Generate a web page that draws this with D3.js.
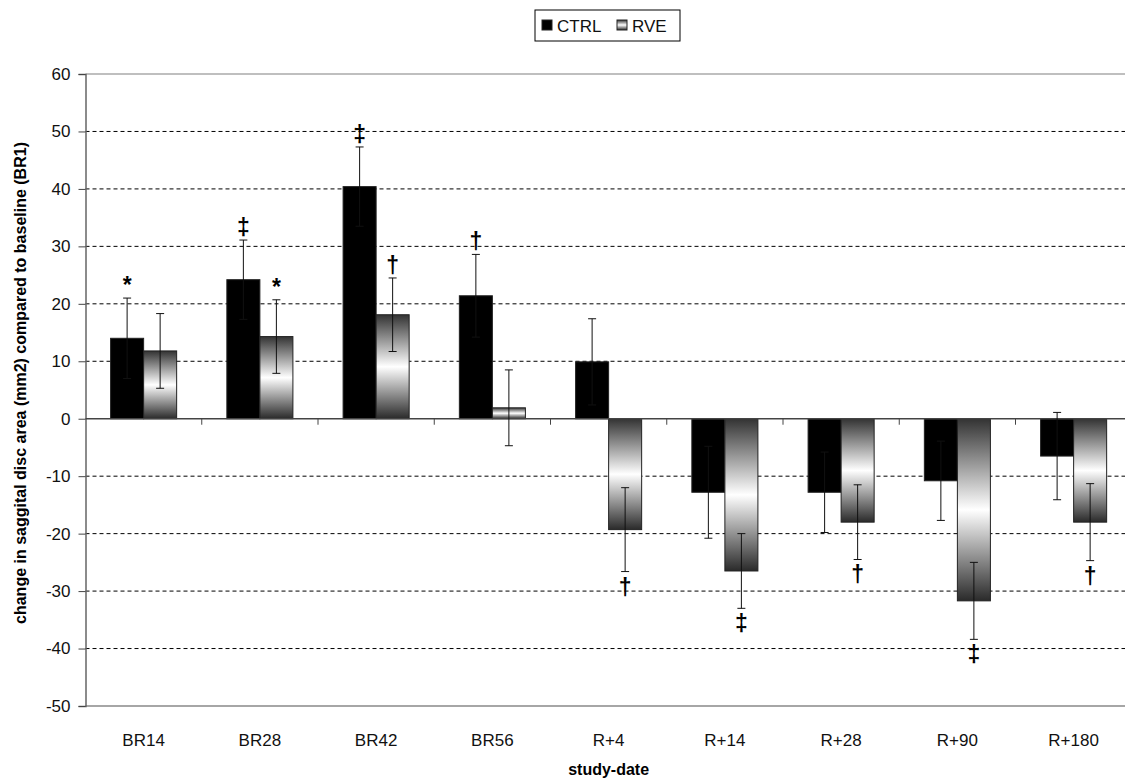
<!DOCTYPE html>
<html>
<head>
<meta charset="utf-8">
<script src="https://cdn.jsdelivr.net/npm/d3@7"></script>
<style>
  body { margin: 0; background: #fff; }
  text { font-family: "Liberation Sans", Arial, sans-serif; }
</style>
</head>
<body>
<div class="chart"></div>
<script>
// values
var categories = ["BR14", "BR28", "BR42", "BR56", "R+4", "R+14", "R+28", "R+90", "R+180"];
var seriesNames = ["CTRL", "RVE"];
var ctrl    = [14.0, 24.2, 40.4, 21.4, 9.9, -12.8, -12.8, -10.8, -6.5];
var ctrlErr = [7.0, 6.9, 6.9, 7.2, 7.5, 8.0, 7.0, 6.9, 7.6];
var rve     = [11.8, 14.3, 18.1, 1.9, -19.3, -26.5, -18.0, -31.7, -18.0];
var rveErr  = [6.5, 6.4, 6.4, 6.6, 7.3, 6.5, 6.5, 6.7, 6.7];
var ctrlMarks = ["*", "\u2021", "\u2021", "\u2020", "", "", "", "", ""];
var rveMarks  = ["", "*", "\u2020", "", "\u2020", "\u2021", "\u2020", "\u2021", "\u2020"];
var yTicks = [-50, -40, -30, -20, -10, 0, 10, 20, 30, 40, 50, 60];

var width = 1125, height = 779;
var plot = {left: 85.5, right: 1131.75, top: 74, bottom: 706};

var svg = d3.select(".chart")
	.append("svg")
	.attr("width", width)
	.attr("height", height);

var defs = svg.append("defs");
var grad = defs.append("linearGradient")
	.attr("id", "rveGrad")
	.attr("x1", 0).attr("y1", 0).attr("x2", 0).attr("y2", 1);
grad.append("stop").attr("offset", "0%").attr("stop-color", "#333");
grad.append("stop").attr("offset", "50%").attr("stop-color", "#fff");
grad.append("stop").attr("offset", "100%").attr("stop-color", "#2a2a2a");

var x0 = d3.scaleBand()
	.domain(categories)
	.range([plot.left, plot.right])
	.padding(0);

var x1 = d3.scaleBand()
	.domain(seriesNames)
	.range([0, x0.bandwidth()])
	.paddingInner(0)
	.paddingOuter(0.76);

var y = d3.scaleLinear()
	.domain([-50, 60])
	.range([plot.bottom, plot.top]);

// frame + grid
var g = svg.append("g");

g.selectAll("line.grid")
	.data(yTicks.filter(function(d){ return d !== 0 && d !== 60 && d !== -50; }))
	.enter()
	.append("line")
		.attr("class", "grid")
		.attr("x1", plot.left).attr("x2", plot.right)
		.attr("y1", function(d){ return y(d); })
		.attr("y2", function(d){ return y(d); })
		.attr("stroke", "#000")
		.attr("stroke-width", 1)
		.attr("stroke-dasharray", "4,3");

g.append("line")
	.attr("x1", plot.left).attr("x2", plot.right)
	.attr("y1", y(60)).attr("y2", y(60))
	.attr("stroke", "#aaa").attr("stroke-width", 1.5);
g.append("line")
	.attr("x1", plot.left).attr("x2", plot.right)
	.attr("y1", y(-50)).attr("y2", y(-50))
	.attr("stroke", "#888").attr("stroke-width", 1.5);

// y axis
var yAxis = d3.axisLeft(y)
	.tickValues(yTicks)
	.tickSize(7)
	.tickPadding(8)
	.tickFormat(function(d){ return String(d); });

var yg = svg.append("g")
	.attr("transform", "translate(" + plot.left + ",0)")
	.call(yAxis);
yg.select(".domain").attr("stroke", "#666").attr("stroke-width", 1.5);
yg.selectAll(".tick line").attr("stroke", "#444");
yg.selectAll(".tick text")
	.attr("font-size", 17)
	.attr("fill", "#111")
	.style("font-family", "'Liberation Sans', Arial, sans-serif");

// bars
var rows = categories.map(function(c, i){
	return [
		{cat: c, name: "CTRL", v: ctrl[i], e: ctrlErr[i], mark: ctrlMarks[i]},
		{cat: c, name: "RVE", v: rve[i], e: rveErr[i], mark: rveMarks[i]}
	];
});
var flat = [].concat.apply([], rows);

var bars = svg.append("g");
bars.selectAll("rect")
	.data(flat)
	.enter()
	.append("rect")
		.attr("x", function(d){ return x0(d.cat) + x1(d.name); })
		.attr("y", function(d){ return y(Math.max(0, d.v)); })
		.attr("width", x1.bandwidth())
		.attr("height", function(d){ return Math.abs(y(d.v) - y(0)); })
		.attr("fill", function(d){ return d.name === "CTRL" ? "#000" : "url(#rveGrad)"; })
		.attr("stroke", "#222")
		.attr("stroke-width", 1);

// zero line with category ticks
svg.append("line")
	.attr("x1", plot.left).attr("x2", plot.right)
	.attr("y1", y(0)).attr("y2", y(0))
	.attr("stroke", "#444").attr("stroke-width", 1.5);
svg.selectAll("line.ctick")
	.data(categories.slice(1))
	.enter()
	.append("line")
		.attr("class", "ctick")
		.attr("x1", function(d){ return x0(d); })
		.attr("x2", function(d){ return x0(d); })
		.attr("y1", y(0)).attr("y2", y(0) + 6)
		.attr("stroke", "#444");

// error bars
var eb = svg.append("g").selectAll("g")
	.data(flat)
	.enter()
	.append("g");
eb.append("line")
	.attr("x1", function(d){ return x0(d.cat) + x1(d.name) + x1.bandwidth()/2; })
	.attr("x2", function(d){ return x0(d.cat) + x1(d.name) + x1.bandwidth()/2; })
	.attr("y1", function(d){ return y(d.v + d.e); })
	.attr("y2", function(d){ return y(d.v - d.e); })
	.attr("stroke", "#111");
[1, -1].forEach(function(s){
	eb.append("line")
		.attr("x1", function(d){ return x0(d.cat) + x1(d.name) + x1.bandwidth()/2 - 4; })
		.attr("x2", function(d){ return x0(d.cat) + x1(d.name) + x1.bandwidth()/2 + 4; })
		.attr("y1", function(d){ return y(d.v + s*d.e); })
		.attr("y2", function(d){ return y(d.v + s*d.e); })
		.attr("stroke", "#111");
});

// significance marks
svg.append("g").selectAll("text")
	.data(flat.filter(function(d){ return d.mark !== ""; }))
	.enter()
	.append("text")
		.attr("x", function(d){ return x0(d.cat) + x1(d.name) + x1.bandwidth()/2; })
		.attr("y", function(d){
			return d.v >= 0 ? y(d.v + d.e) - 5 : y(d.v - d.e) + 23;
		})
		.attr("text-anchor", "middle")
		.attr("font-size", 23)
		.attr("font-weight", "bold")
		.attr("fill", "#000")
		.text(function(d){ return d.mark; });

// category labels
svg.append("g").selectAll("text")
	.data(categories)
	.enter()
	.append("text")
		.attr("x", function(d){ return x0(d) + x0.bandwidth()/2; })
		.attr("y", 746)
		.attr("text-anchor", "middle")
		.attr("font-size", 17)
		.attr("fill", "#111")
		.text(function(d){ return d; });

// titles
svg.append("text")
	.attr("x", (plot.left + plot.right)/2)
	.attr("y", 775)
	.attr("text-anchor", "middle")
	.attr("font-size", 16)
	.attr("font-weight", "bold")
	.text("study-date");

svg.append("text")
	.attr("transform", "translate(26,383) rotate(-90)")
	.attr("text-anchor", "middle")
	.attr("font-size", 16)
	.attr("font-weight", "bold")
	.text("change in saggital disc area (mm2) compared to baseline (BR1)");

// legend
var lg = svg.append("g").attr("transform", "translate(535,10)");
lg.append("rect")
	.attr("width", 145).attr("height", 31)
	.attr("fill", "#fff").attr("stroke", "#000").attr("stroke-width", 1);
seriesNames.forEach(function(n, i){
	var lx = 7 + i * 75;
	lg.append("rect")
		.attr("x", lx).attr("y", 10)
		.attr("width", 10).attr("height", 10)
		.attr("fill", n === "CTRL" ? "#000" : "url(#rveGrad)")
		.attr("stroke", "#222");
	lg.append("text")
		.attr("x", lx + 15).attr("y", 22)
		.attr("font-size", 17)
		.attr("fill", "#111")
		.text(n);
});
</script>
</body>
</html>
